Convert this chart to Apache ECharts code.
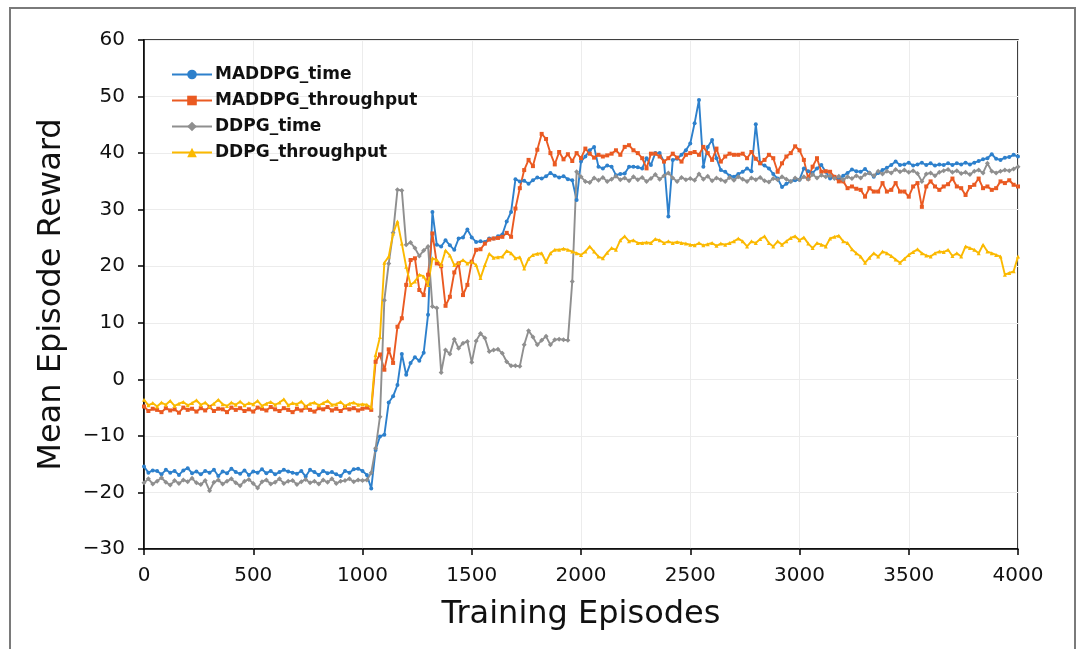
<!DOCTYPE html>
<html>
<head>
<meta charset="utf-8">
<script src="https://cdn.jsdelivr.net/npm/echarts@6/dist/echarts.min.js"></script>
<style>
html,body{margin:0;padding:0;background:#fff;}
#chart{width:1083px;height:649px;}
</style>
</head>
<body>
<div id="chart"></div>
<script>
// Episode sampling grid: every 20 episodes from 0 to 4000
const EPISODE_STEP = 20;
const episodes = [];
for (let e = 0; e <= 4000; e += EPISODE_STEP) episodes.push(e);

const xTicks = [0, 500, 1000, 1500, 2000, 2500, 3000, 3500, 4000];
const yTicks = [-30, -20, -10, 0, 10, 20, 30, 40, 50, 60];

const seriesNames = ['MADDPG_time', 'MADDPG_throughput', 'DDPG_time', 'DDPG_throughput'];

const maddpgTime = [
-15.4,-16.5,-16.1,-16.2,-16.8,-16.0,-16.5,-16.2,-16.9,-16.1,
-15.7,-16.6,-16.3,-16.8,-16.2,-16.5,-16.0,-17.1,-16.3,-16.6,
-15.8,-16.4,-16.7,-16.1,-16.9,-16.3,-16.5,-15.9,-16.6,-16.2,
-16.8,-16.4,-16.0,-16.3,-16.5,-16.7,-16.2,-17.2,-16.0,-16.4,
-16.9,-16.2,-16.6,-16.4,-16.8,-17.1,-16.2,-16.5,-15.9,-15.8,
-16.2,-16.9,-19.3,-12.5,-10.1,-9.8,-4.1,-3.0,-1.0,4.5,
0.8,2.9,3.9,3.3,4.7,11.4,29.6,23.8,23.5,24.6,
23.7,22.9,24.9,25.1,26.5,25.1,24.3,24.4,24.3,24.9,
24.9,25.3,25.6,27.9,29.6,35.4,35.0,35.1,34.6,35.2,
35.7,35.5,35.9,36.5,36.0,35.7,35.9,35.4,35.2,31.7,
38.5,39.4,40.5,41.1,37.6,37.3,37.8,37.6,36.1,36.3,
36.4,37.6,37.6,37.5,37.3,39.1,37.9,40.0,40.0,38.5,
28.8,38.8,39.0,39.7,40.5,41.7,45.3,49.4,37.6,41.1,
42.3,39.1,37.0,36.7,36.0,35.8,36.3,36.7,37.3,36.8,
45.1,38.2,37.8,37.3,36.3,35.5,34.0,34.6,35.0,35.2,
35.3,37.3,36.8,36.5,37.3,37.9,36.7,35.5,35.8,35.3,
36.0,36.5,37.1,36.8,36.7,37.2,36.5,35.8,36.5,37.0,
37.4,37.9,38.5,37.9,38.0,38.3,37.8,38.0,38.3,37.9,
38.2,37.8,38.0,37.9,38.2,37.9,38.2,38.0,38.3,38.0,
38.3,38.6,38.9,39.1,39.8,39.0,38.8,39.2,39.3,39.7,39.4
];

const maddpgThroughput = [
-4.8,-5.6,-5.2,-5.4,-5.8,-5.1,-5.5,-5.3,-5.9,-5.0,
-5.4,-5.2,-5.7,-5.1,-5.5,-4.9,-5.6,-5.2,-5.3,-5.8,
-5.0,-5.4,-5.1,-5.6,-5.3,-5.7,-5.0,-5.2,-5.5,-4.9,
-5.3,-5.6,-5.1,-5.4,-5.8,-5.2,-5.5,-5.0,-5.4,-5.7,
-5.1,-5.3,-4.9,-5.5,-5.2,-5.6,-5.0,-5.3,-5.1,-5.5,
-5.2,-5.0,-5.4,3.1,4.4,1.7,5.3,2.9,9.3,10.8,
16.7,21.1,21.4,15.8,14.9,18.5,25.8,20.5,20.0,13.0,
14.6,18.9,20.5,14.9,16.7,20.8,22.9,23.0,24.0,24.7,
24.9,25.0,25.2,25.9,25.2,30.2,33.8,37.0,38.8,37.7,
40.6,43.4,42.5,40.0,38.0,40.2,38.9,39.8,38.6,40.0,
39.1,40.8,39.9,39.2,39.7,39.4,39.6,39.9,40.5,39.7,
41.1,41.4,40.5,40.0,39.1,37.3,39.9,39.9,39.4,38.5,
39.1,39.9,39.2,38.5,39.7,40.0,40.2,39.7,41.1,40.0,
38.8,40.8,38.5,39.4,39.9,39.7,39.7,39.9,39.1,40.2,
39.0,38.2,38.8,39.7,39.1,36.7,38.2,39.4,40.0,41.2,
40.5,38.8,35.5,37.6,39.1,36.7,36.8,36.7,35.8,35.0,
35.0,33.8,34.1,33.7,33.5,32.3,33.8,33.2,33.2,34.7,
33.2,33.5,34.7,33.2,33.2,32.3,34.1,34.7,30.5,34.1,
35.0,34.1,33.5,34.1,34.5,35.5,34.1,33.8,32.6,34.0,
34.4,35.5,33.8,34.1,33.5,33.8,35.0,34.7,35.2,34.4,34.1
];

const ddpgTime = [
-18.3,-17.6,-18.5,-18.0,-17.4,-18.2,-18.7,-17.9,-18.4,-17.8,
-18.1,-17.5,-18.3,-18.6,-17.9,-19.7,-18.2,-17.8,-18.5,-18.0,
-17.6,-18.3,-18.8,-18.0,-17.7,-18.4,-19.2,-18.1,-17.8,-18.5,
-18.2,-17.6,-18.4,-18.0,-17.9,-18.6,-18.1,-17.7,-18.3,-18.0,
-18.5,-17.8,-18.2,-17.6,-18.4,-18.0,-17.9,-17.6,-18.1,-17.8,
-17.9,-17.8,-16.5,-12.2,-6.6,14.0,20.5,25.9,33.5,33.4,
23.8,24.2,23.2,21.8,22.8,23.5,12.9,12.6,1.2,5.2,
4.5,7.1,5.5,6.4,6.7,3.0,6.8,8.1,7.3,4.9,
5.2,5.3,4.6,3.1,2.4,2.4,2.3,6.1,8.6,7.5,
6.1,6.9,7.6,6.1,7.0,7.1,7.0,6.9,17.3,36.7,
35.8,35.0,34.8,35.6,35.2,35.7,35.0,35.4,35.9,35.3,
35.6,35.1,35.8,35.3,35.7,35.0,35.5,36.2,35.4,36.0,
36.5,35.6,35.0,35.7,35.3,35.5,35.2,36.3,35.4,35.9,
35.1,35.6,35.3,35.0,35.7,35.2,35.8,35.4,35.0,35.6,
35.3,35.7,35.1,34.9,35.5,35.3,35.8,35.4,35.0,35.6,
35.3,35.8,35.4,36.2,35.6,36.1,35.8,36.0,35.5,35.9,
35.3,35.8,35.5,36.0,35.6,36.2,36.5,36.0,36.8,36.3,
36.8,36.5,37.1,36.7,37.0,36.6,36.9,36.4,35.0,36.3,
36.5,36.0,36.6,36.9,37.1,36.6,36.9,36.4,36.6,36.2,
36.8,37.0,36.5,38.2,36.8,36.5,36.8,37.0,36.9,37.2,37.6
];

const ddpgThroughput = [
-3.6,-4.6,-4.2,-4.8,-4.1,-4.5,-3.8,-4.7,-4.3,-4.0,
-4.6,-4.2,-3.7,-4.5,-4.1,-4.8,-4.3,-3.6,-4.4,-4.7,
-4.1,-4.5,-3.9,-4.6,-4.2,-4.4,-3.8,-4.7,-4.3,-4.0,
-4.5,-4.1,-3.5,-4.6,-4.2,-4.4,-3.9,-4.8,-4.3,-4.1,
-4.6,-4.2,-3.8,-4.5,-4.4,-4.0,-4.7,-4.3,-4.1,-4.5,
-4.4,-4.5,-5.0,4.3,7.5,20.6,21.7,25.8,27.9,24.0,
19.9,16.7,17.3,18.5,18.2,16.7,21.4,21.1,20.2,22.8,
21.9,20.2,20.6,21.1,20.5,20.8,20.2,17.9,20.2,22.2,
21.5,21.6,21.7,22.7,22.3,21.4,21.6,19.6,21.3,22.0,
22.2,22.3,20.8,22.3,22.9,22.9,23.1,22.9,22.6,22.3,
22.0,22.6,23.5,22.6,21.7,21.4,22.4,23.2,22.9,24.6,
25.3,24.4,24.6,24.1,24.1,24.2,24.1,24.8,24.6,24.1,
24.4,24.1,24.3,24.1,24.0,23.8,23.7,24.1,23.7,23.9,
24.1,23.6,24.0,23.8,24.1,24.4,24.9,24.4,23.5,24.4,
24.1,24.8,25.3,24.1,23.5,24.4,23.8,24.4,25.0,25.3,
24.6,25.1,24.0,23.2,24.1,23.8,23.5,24.9,25.2,25.4,
24.4,24.1,23.0,22.3,21.7,20.6,21.5,22.3,21.7,22.6,
22.3,21.8,21.2,20.6,21.3,22.0,22.5,23.0,22.3,21.9,
21.7,22.3,22.6,22.5,22.9,21.8,22.3,21.7,23.5,23.2,
22.9,22.3,23.8,22.6,22.3,22.0,21.7,18.5,18.8,19.1,21.7
];

const seriesValues = [maddpgTime, maddpgThroughput, ddpgTime, ddpgThroughput];
const seriesColors = ['#2d80cc', '#ea5a22', '#8f8f8f', '#fbb900'];
const seriesSymbols = ['circle', 'rect', 'diamond', 'triangle'];

const FONT = 'DejaVu Sans';
const minus = v => String(v).replace('-', '\u2212');

const chart = echarts.init(document.getElementById('chart'), null, {renderer: 'canvas'});

const series = seriesNames.map((name, k) => ({
  name: name,
  type: 'line',
  data: episodes.map((e, i) => [e, seriesValues[k][i]]),
  symbol: seriesSymbols[k],
  symbolSize: k === 2 ? 5 : 4,
  showSymbol: true,
  lineStyle: {width: 1.9, color: seriesColors[k]},
  itemStyle: {color: seriesColors[k]},
  color: seriesColors[k],
  emphasis: {disabled: true},
  animation: false,
  clip: true
}));

chart.setOption({
  backgroundColor: '#fff',
  animation: false,
  graphic: [{
    type: 'rect',
    shape: {x: 10, y: 8, width: 1065, height: 660},
    style: {fill: 'none', stroke: '#7a7a7a', lineWidth: 2},
    z: 100
  }],
  grid: {
    left: 144, right: 65, top: 40, bottom: 100,
    show: true, borderColor: '#000', borderWidth: 1.5, backgroundColor: 'transparent'
  },
  legend: {
    orient: 'vertical',
    left: 166, top: 61,
    itemWidth: 40, itemHeight: 12, itemGap: 9,
    textStyle: {fontFamily: FONT, fontSize: 17, fontWeight: 'bold', color: '#111', padding: [0, 0, 0, -2]},
    data: seriesNames
  },
  xAxis: {
    type: 'value',
    min: 0, max: 4000, interval: 500,
    name: 'Training Episodes',
    nameLocation: 'middle',
    nameGap: 50,
    nameTextStyle: {fontFamily: FONT, fontSize: 32, color: '#111'},
    axisLine: {show: true, onZero: false, lineStyle: {color: '#000', width: 1.5}},
    axisTick: {show: true, inside: false, length: 6, lineStyle: {color: '#000', width: 1.5}},
    axisLabel: {fontFamily: FONT, fontSize: 20, color: '#111', margin: 17,
      formatter: v => xTicks.includes(v) ? minus(v) : ''},
    splitLine: {show: true, lineStyle: {color: '#ececec', width: 1}}
  },
  yAxis: {
    type: 'value',
    min: -30, max: 60, interval: 10,
    name: 'Mean Episode Reward',
    nameLocation: 'middle',
    nameGap: 76,
    nameRotate: 90,
    nameTextStyle: {fontFamily: FONT, fontSize: 32, color: '#111'},
    axisLine: {show: true, onZero: false, lineStyle: {color: '#000', width: 1.5}},
    axisTick: {show: true, inside: false, length: 6, lineStyle: {color: '#000', width: 1.5}},
    axisLabel: {fontFamily: FONT, fontSize: 20, color: '#111', margin: 19,
      formatter: v => yTicks.includes(v) ? minus(v) : ''},
    splitLine: {show: true, lineStyle: {color: '#ececec', width: 1}}
  },
  series: series
});
</script>
</body>
</html>
